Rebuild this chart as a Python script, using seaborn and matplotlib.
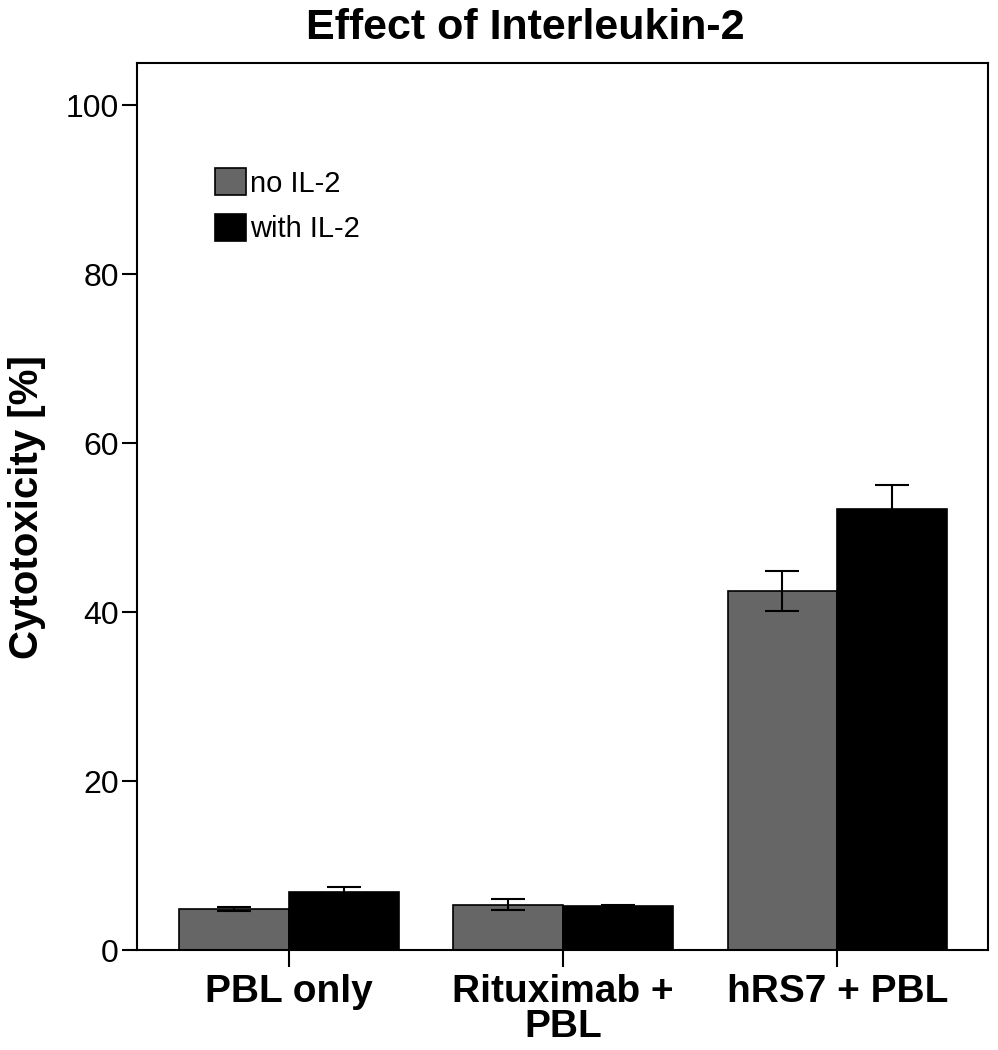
import seaborn as sns
import matplotlib.pyplot as plt
import pandas as pd

# Data
groups = ['PBL only', 'Rituximab +\nPBL', 'hRS7 + PBL']
conditions = ['no IL-2', 'with IL-2']
no_il2 = [4.9, 5.4, 42.5]
with_il2 = [6.9, 5.2, 52.2]
no_il2_err = [0.2, 0.65, 2.4]
with_il2_err = [0.6, 0.15, 2.8]

df = pd.DataFrame({
    'group': groups * 2,
    'condition': [conditions[0]] * 3 + [conditions[1]] * 3,
    'value': no_il2 + with_il2,
})

sns.set_style('white')
plt.rcParams['font.family'] = ['Liberation Sans', 'DejaVu Sans']
for k in ['text.color', 'axes.labelcolor', 'xtick.color', 'ytick.color']:
    plt.rcParams[k] = 'black'

fig = plt.figure(figsize=(9.98, 10.5), dpi=100)
ax = fig.add_axes([0.137, 0.095, 0.853, 0.845])

sns.barplot(data=df, x='group', y='value', hue='condition', order=groups,
            hue_order=conditions, palette=['#666666', '#000000'],
            errorbar=None, edgecolor='black', linewidth=1.2, width=0.8,
            saturation=1, ax=ax)

# error bars at the bar centres
errs = no_il2_err + with_il2_err
vals = no_il2 + with_il2
for patch, v, e in zip(ax.patches[:6], vals, errs):
    xc = patch.get_x() + patch.get_width() / 2
    ax.errorbar(xc, v, yerr=e, color='black', capsize=12, elinewidth=1.5,
                capthick=1.5, fmt='none')

ax.set_ylim(0, 105)
ax.set_xlim(-0.555, 2.55)
ax.set_yticks([0, 20, 40, 60, 80, 100])
ax.tick_params(axis='y', direction='out', length=11, width=1.5, labelsize=23,
               left=True, pad=2)
ax.tick_params(axis='x', direction='out', length=12, width=1.5, bottom=True,
               pad=5)
ax.set_xticks(range(3))
ax.set_xticklabels(groups, fontsize=28, fontweight='bold', linespacing=0.98)
ax.set_xlabel('')
ax.set_ylabel('Cytotoxicity [%]', fontsize=29, fontweight='bold', labelpad=14)
fig.suptitle('Effect of Interleukin-2', fontsize=31, fontweight='bold',
             x=0.526, y=0.992, va='top')

for s in ax.spines.values():
    s.set_visible(True)
    s.set_color('black')
    s.set_linewidth(1.5)

leg = ax.legend(loc='upper left', bbox_to_anchor=(0.075, 0.898), frameon=False,
                fontsize=21, handlelength=1.05, handleheight=1.05,
                handletextpad=0.15, labelspacing=0.55, borderpad=0)

plt.savefig('out.png', dpi=100)
